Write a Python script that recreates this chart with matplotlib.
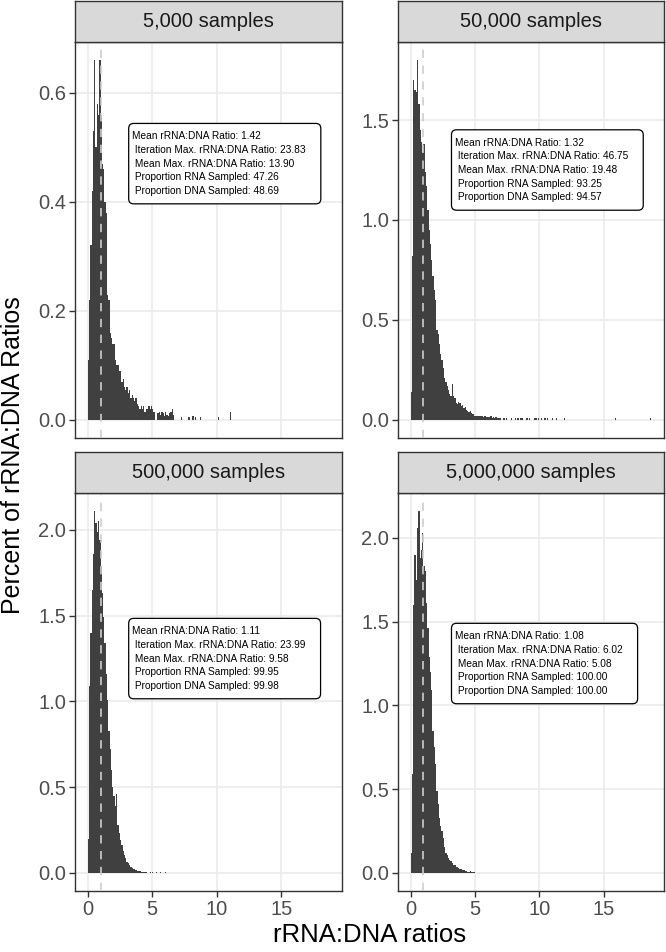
import numpy as np
import matplotlib
matplotlib.use('Agg')
import matplotlib.pyplot as plt
from matplotlib.patches import FancyBboxPatch
from matplotlib.transforms import IdentityTransform

plt.rcParams['font.family'] = ['Liberation Sans', 'DejaVu Sans']

# ---- data (percent of ratios per 0.1-wide bin, starting at 0) ----
bin_width = 0.1
panel_titles = ['5,000 samples', '50,000 samples', '500,000 samples', '5,000,000 samples']

heights_5k = [0.11, 0.22, 0.32, 0.42, 0.53, 0.66, 0.50, 0.58, 0.56, 0.66,
              0.56, 0.47, 0.46, 0.40, 0.38, 0.23, 0.22, 0.16, 0.15, 0.14,
              0.14, 0.11, 0.10, 0.10, 0.09, 0.09, 0.07, 0.075, 0.06, 0.055,
              0.06, 0.05, 0.055, 0.04, 0.045, 0.04, 0.035, 0.04, 0.03, 0.025,
              0.02, 0.025, 0.02, 0.025, 0.015, 0.02, 0.02, 0.025, 0.02, 0.025,
              0.02, 0.015, 0.0, 0.0, 0.012, 0.015, 0.01, 0.015, 0.012, 0.008,
              0.015, 0.01, 0.008, 0.012, 0.015, 0.02, 0.01]
tail_x_5k = [7.2, 7.8, 8.1, 8.3, 8.7, 10.1, 11.0]
tail_h_5k = [0.006, 0.006, 0.008, 0.006, 0.006, 0.006, 0.014]

heights_50k = [0.14, 0.82, 1.70, 1.65, 1.64, 1.80, 1.58, 1.45, 1.39, 1.34,
               1.38, 1.24, 1.17, 1.05, 0.95, 0.88, 0.80, 0.72, 0.65, 0.60,
               0.45, 0.43, 0.38, 0.33, 0.30, 0.26, 0.21, 0.19, 0.17, 0.15,
               0.13, 0.12, 0.18, 0.12, 0.11, 0.085, 0.08, 0.09, 0.085, 0.07,
               0.075, 0.06, 0.065, 0.05, 0.045, 0.04, 0.045, 0.035, 0.03, 0.02,
               0.02, 0.018, 0.022, 0.02, 0.018, 0.02, 0.015, 0.02, 0.018, 0.015,
               0.017, 0.015, 0.02, 0.012, 0.015, 0.01, 0.015, 0.012, 0.01, 0.012]
tail_x_50k = [7.2, 7.4, 7.8, 8.1, 8.3, 8.5, 8.6, 9.0, 9.2, 9.6,
              9.7, 9.9, 10.1, 10.4, 10.6, 11.0, 11.3, 11.9, 15.9, 18.6]
tail_h_50k = [0.01, 0.008, 0.01, 0.008, 0.01, 0.012, 0.008, 0.008, 0.01, 0.008,
              0.01, 0.008, 0.01, 0.008, 0.008, 0.01, 0.008, 0.008, 0.008, 0.008]

heights_500k = [0.20, 1.09, 1.40, 1.65, 1.86, 2.11, 2.04, 1.99, 2.05, 1.94,
                1.79, 1.63, 1.49, 1.34, 1.16, 1.01, 0.83, 0.72, 0.60, 0.50,
                0.45, 0.39, 0.46, 0.28, 0.23, 0.19, 0.16, 0.13, 0.105, 0.085,
                0.066, 0.056, 0.047, 0.037, 0.031, 0.025, 0.02, 0.017, 0.014, 0.012,
                0.01, 0.008, 0.006, 0.008, 0.005, 0.006]
tail_x_500k = [4.8, 5.0, 5.3, 5.6, 6.0]
tail_h_500k = [0.006, 0.004, 0.008, 0.004, 0.006]

heights_5m = [0.12, 0.59, 1.60, 1.90, 1.75, 2.06, 2.16, 1.88, 1.93, 2.03,
              1.83, 1.80, 1.61, 1.46, 1.29, 1.20, 1.09, 0.85, 0.75, 0.65,
              0.49, 0.41, 0.33, 0.28, 0.25, 0.21, 0.155, 0.12, 0.105, 0.09,
              0.076, 0.07, 0.06, 0.046, 0.05, 0.036, 0.033, 0.03, 0.026, 0.022,
              0.016, 0.015, 0.012, 0.01, 0.008, 0.006, 0.01, 0.004, 0.008]
tail_x_5m = [4.9]
tail_h_5m = [0.006]

# summary stats shown in each label box
mean_ratio = [1.42, 1.32, 1.11, 1.08]
iter_max = [23.83, 46.75, 23.99, 6.02]
mean_max = [13.90, 19.48, 9.58, 5.08]
prop_rna = [47.26, 93.25, 99.95, 100.00]
prop_dna = [48.69, 94.57, 99.98, 100.00]
label_y = [0.47, 1.25, 1.25, 1.25]

y_ticks = [[0.0, 0.2, 0.4, 0.6], [0.0, 0.5, 1.0, 1.5],
           [0.0, 0.5, 1.0, 1.5, 2.0], [0.0, 0.5, 1.0, 1.5, 2.0]]
x_ticks = [0, 5, 10, 15]

all_heights = [heights_5k, heights_50k, heights_500k, heights_5m]
all_tail_x = [tail_x_5k, tail_x_50k, tail_x_500k, tail_x_5m]
all_tail_h = [tail_h_5k, tail_h_50k, tail_h_500k, tail_h_5m]

# ---- layout (pixels) ----
W, H = 666, 952
fig = plt.figure(figsize=(W / 100, H / 100), dpi=100)
fig.patch.set_facecolor('white')


def px_axes(x0, y0, x1, y1):
    return fig.add_axes([x0 / W, 1 - y1 / H, (x1 - x0) / W, (y1 - y0) / H])


panel_boxes = [(75, 42, 342, 438), (398, 42, 664, 438),
               (75, 493, 342, 891), (398, 493, 664, 891)]
strip_h = 41
bar_color = '#404040'
dark = '#333333'

axes_list = []
texts = []
for i, (x0, y0, x1, y1) in enumerate(panel_boxes):
    ax = px_axes(x0, y0, x1, y1)
    h = all_heights[i]
    edges = np.arange(len(h) + 1) * bin_width
    ax.stairs(h, edges, fill=True, color=bar_color, lw=0, zorder=2)
    ax.bar(all_tail_x[i], all_tail_h[i], width=bin_width, align='edge',
           color=bar_color, lw=0, zorder=2)
    ax.axvline(1, color='#CDCDCD', lw=1.2, dashes=(5, 4.5), zorder=3)

    ymax = max(max(h), max(all_tail_h[i]))
    ax.set_ylim(-0.05 * ymax, 1.05 * ymax)
    ax.set_xlim(-0.98, 19.7)
    ax.set_xticks(x_ticks)
    ax.set_yticks(y_ticks[i])
    ax.set_yticklabels([f'{v:.1f}' for v in y_ticks[i]])
    ax.grid(color='#EBEBEB', lw=1.2)
    ax.set_axisbelow(True)
    for s in ax.spines.values():
        s.set_color(dark)
        s.set_linewidth(1.0)
    ax.tick_params(length=4.5, width=1, color=dark, labelsize=14.5,
                   labelcolor='#4D4D4D', pad=2)
    if i < 2:
        ax.tick_params(axis='x', bottom=False, labelbottom=False)

    label = (f'Mean rRNA:DNA Ratio: {mean_ratio[i]:.2f}\n'
             f' Iteration Max. rRNA:DNA Ratio: {iter_max[i]:.2f}\n'
             f' Mean Max. rRNA:DNA Ratio: {mean_max[i]:.2f}\n'
             f' Proportion RNA Sampled: {prop_rna[i]:.2f}\n'
             f' Proportion DNA Sampled: {prop_dna[i]:.2f}')
    t = ax.text(3.45, label_y[i], label, ha='left', va='center', fontsize=7.3,
                linespacing=1.45, color='black', zorder=6)
    axes_list.append(ax)
    texts.append(t)

    # facet strip
    sax = px_axes(x0, y0 - strip_h, x1, y0)
    sax.set_facecolor('#D9D9D9')
    sax.set_xticks([])
    sax.set_yticks([])
    for s in sax.spines.values():
        s.set_color(dark)
        s.set_linewidth(1.0)
    sax.text(0.5, 0.5, panel_titles[i], ha='center', va='center',
             fontsize=14.5, color='#1A1A1A', transform=sax.transAxes)

# label boxes: sized from the rendered text, with extra room on the right
fig.canvas.draw()
renderer = fig.canvas.get_renderer()
for ax, t in zip(axes_list, texts):
    bb = t.get_window_extent(renderer)
    bx0, bx1 = bb.x0 - 3.5, bb.x1 + 15
    by0, by1 = bb.y0 - 8, bb.y1 + 8
    box = FancyBboxPatch((bx0, by0), bx1 - bx0, by1 - by0,
                         boxstyle='round,pad=0,rounding_size=5',
                         transform=IdentityTransform(), fc='white',
                         ec='black', lw=0.9, zorder=5)
    ax.add_patch(box)

fig.text(13 / W, 1 - 455 / H, 'Percent of rRNA:DNA Ratios', rotation=90,
         ha='center', va='center', fontsize=18)
fig.text(369.5 / W, 1 - 935 / H, 'rRNA:DNA ratios', ha='center', va='center',
         fontsize=18.5)

fig.savefig('out.png', dpi=100)
